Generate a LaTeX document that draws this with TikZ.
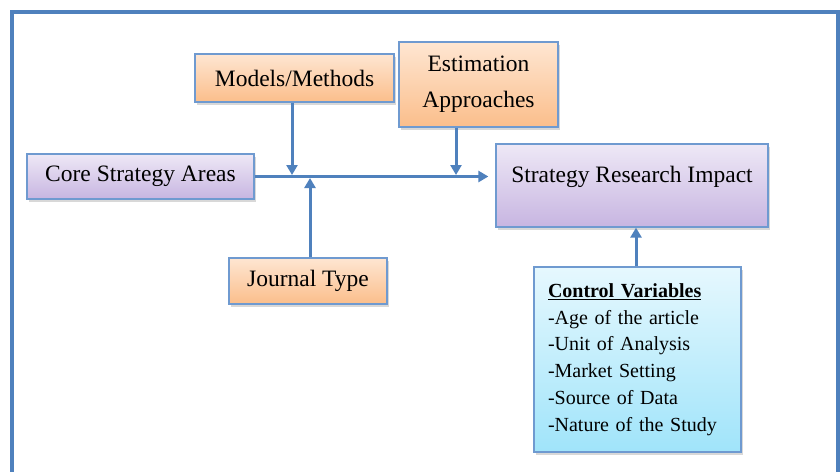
\documentclass[tikz,border=0pt]{standalone}
\usepackage{fontspec}
\setmainfont{Liberation Serif}
\usetikzlibrary{arrows.meta,shadows}

\definecolor{frameblue}{HTML}{4F81BD}
\definecolor{edgeblue}{HTML}{6F9AD0}
\definecolor{orangetop}{HTML}{FEE6D2}
\definecolor{orangebot}{HTML}{FBBE8B}
\definecolor{purpletop}{HTML}{EEE8F6}
\definecolor{purplebot}{HTML}{C7B5E1}
\definecolor{bluetop}{HTML}{E6F8FE}
\definecolor{bluebot}{HTML}{A0E4FA}

\tikzset{
  box/.style={draw=edgeblue, line width=1.3pt, inner sep=0pt, align=center,
    font=\fontsize{23.5}{35.7}\selectfont,
    drop shadow={shadow xshift=2pt, shadow yshift=-2.5pt, opacity=0.25, fill=black!60}},
  orangebox/.style={box, top color=orangetop, bottom color=orangebot},
  purplebox/.style={box, top color=purpletop, bottom color=purplebot},
  bluebox/.style={box, top color=bluetop, bottom color=bluebot},
  flow/.style={draw=frameblue, line width=3pt, -{Triangle[length=10pt,width=11pt]}}
}

\begin{document}
\begin{tikzpicture}[x=1pt,y=-1pt]
  \clip (0,0) rectangle (840,471);
  \fill[white] (0,0) rectangle (840,471);
  \draw[frameblue, line width=4pt] (12,12) rectangle (838,500);

  \node[purplebox, minimum width=227pt, minimum height=45pt] (core) at (140.5,176.5) {Core Strategy Areas};
  \node[orangebox, minimum width=199pt, minimum height=48pt] (models) at (294.5,78) {Models/Methods};
  \node[orangebox, minimum width=159pt, minimum height=85pt] (estim) at (478.5,84.5) {Estimation\\Approaches};
  \node[orangebox, minimum width=158pt, minimum height=46pt] (journal) at (308,281) {Journal Type};
  \node[purplebox, minimum width=272pt, minimum height=83pt, text depth=23pt] (impact) at (632,185.5) {Strategy Research Impact};
  \node[bluebox, minimum width=207pt, minimum height=185pt, inner xsep=14pt, text width=179pt, align=left,
        font=\fontsize{20}{26.7}\selectfont] (control) at (637.5,359.5)
        {\textbf{\underline{Control Variables}}\\-Age of the article\\-Unit of Analysis\\-Market Setting\\-Source of Data\\-Nature of the Study};

  \coordinate (hit) at (impact.west |- core.east);
  \coordinate (models drop) at ([xshift=-2.5pt]models.south);
  \coordinate (estim drop) at ([xshift=-22.5pt]estim.south);
  \coordinate (journal rise) at ([xshift=2pt]journal.north);
  \coordinate (control rise) at ([xshift=-1.5pt]control.north);

  \draw[flow] (core.east) -- ([xshift=-7pt]hit);
  \draw[flow, shorten >=1.5pt] (models drop) -- (models drop |- core.east);
  \draw[flow, shorten >=1.5pt] (estim drop) -- (estim drop |- core.east);
  \draw[flow, shorten >=1.5pt] (journal rise) -- (journal rise |- core.east);
  \draw[flow] (control rise) -- (control rise |- impact.south);
\end{tikzpicture}
\end{document}
